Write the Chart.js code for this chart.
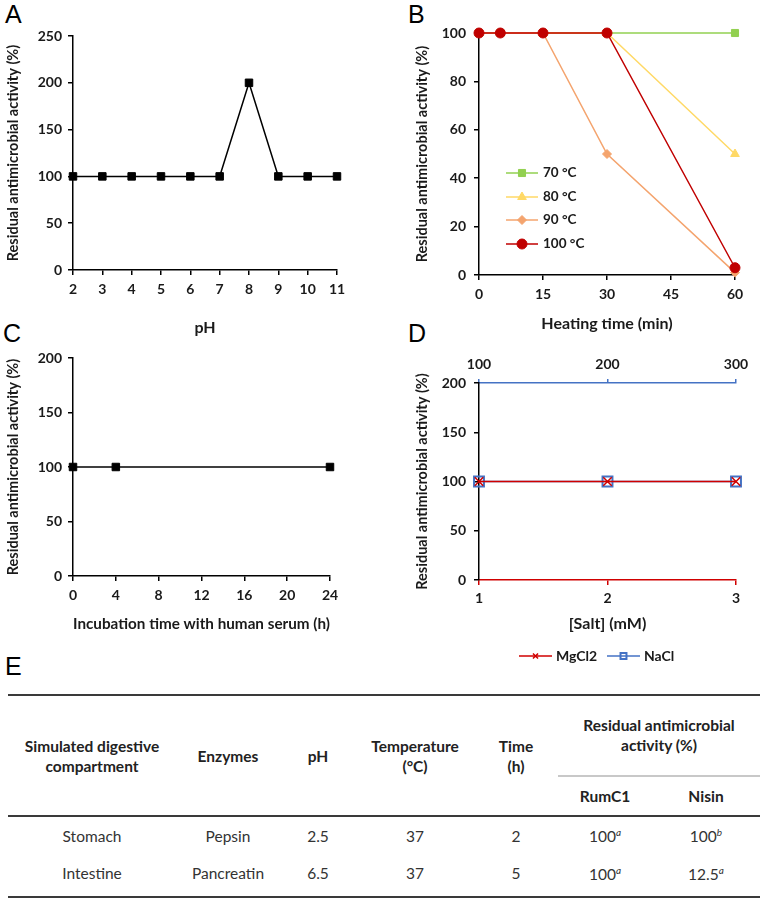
<!DOCTYPE html>
<html>
<head>
<meta charset="utf-8">
<script src="https://cdn.jsdelivr.net/npm/chart.js@4.4.1/dist/chart.umd.min.js"></script>
<style>
    body { margin: 0; background: #fff; width: 763px; height: 902px; position: relative; overflow: hidden; font-family: Lato, sans-serif; }
    canvas { position: absolute; }
    .tag { position: absolute; font: 25px/25px "Liberation Sans", Arial, sans-serif; color: #000; }
    table { position: absolute; left: 8px; top: 694px; width: 752px; border-collapse: collapse; table-layout: fixed;
            font-size: 15.5px; color: #333; border-top: 2px solid #3a3a3a; border-bottom: 2px solid #3a3a3a; }
    thead { border-bottom: 2px solid #3a3a3a; }
    th { font-weight: bold; color: #222; line-height: 20px; padding: 0; text-align: center; }
    td { text-align: center; padding: 0; }
    tr.h1 { height: 81px; }
    tr.h2 { height: 40px; }
    th.grp { border-bottom: 2px solid #c8c8c8; padding-bottom: 2px; }
    tbody tr { height: 38px; }
    tbody tr.last td { padding-bottom: 4px; height: 38px; }
    sup { font-size: 10px; font-style: italic; vertical-align: 6px; }
</style>
</head>
<body>
<div class="tag" style="left:5px;top:2px">A</div>
<div class="tag" style="left:408px;top:2px">B</div>
<div class="tag" style="left:3px;top:321px">C</div>
<div class="tag" style="left:408px;top:321px">D</div>
<div class="tag" style="left:5px;top:654px">E</div>

<canvas id="phChart" width="380" height="340" style="left:0;top:0"></canvas>
<canvas id="heatChart" width="383" height="340" style="left:380px;top:0"></canvas>
<canvas id="serumChart" width="380" height="300" style="left:0;top:340px"></canvas>
<canvas id="saltChart" width="383" height="330" style="left:380px;top:340px"></canvas>

<table>
    <colgroup>
        <col style="width:168px"><col style="width:104px"><col style="width:76px"><col style="width:118px">
        <col style="width:84px"><col style="width:94px"><col style="width:108px">
    </colgroup>
    <thead>
        <tr class="h1">
            <th rowspan="2">Simulated digestive<br>compartment</th>
            <th rowspan="2">Enzymes</th>
            <th rowspan="2">pH</th>
            <th rowspan="2">Temperature<br>(°C)</th>
            <th rowspan="2">Time<br>(h)</th>
            <th colspan="2" class="grp">Residual antimicrobial<br>activity (%)</th>
        </tr>
        <tr class="h2"><th>RumC1</th><th>Nisin</th></tr>
    </thead>
    <tbody id="digestBody"></tbody>
</table>

<script>
// A: activity vs pH
const phValues = [2, 3, 4, 5, 6, 7, 8, 9, 10, 11];
const phActivity = [100, 100, 100, 100, 100, 100, 200, 100, 100, 100];

// B: activity vs heating time
const heatTimes = [0, 5, 15, 30, 60];
const heat70 = [100, 100, 100, 100, 100];
const heat80 = [100, 100, 100, 100, 50];
const heat90 = [100, 100, 100, 50, 1];
const heat100 = [100, 100, 100, 100, 3];

// C: activity vs incubation in human serum
const serumTimes = [0, 4, 24];
const serumActivity = [100, 100, 100];

// D: activity vs salt concentration
const mgcl2Conc = [1, 2, 3];
const mgcl2Activity = [100, 100, 100];
const naclConc = [100, 200, 300];
const naclActivity = [100, 100, 100];

// E: simulated digestion table
const compartments = ['Stomach', 'Intestine'];
const enzymes = ['Pepsin', 'Pancreatin'];
const digestPh = ['2.5', '6.5'];
const digestTemp = ['37', '37'];
const digestTime = ['2', '5'];
const rumc1 = ['100', '100'];
const rumc1Sup = ['a', 'a'];
const nisin = ['100', '12.5'];
const nisinSup = ['b', 'a'];

const yTitle = 'Residual antimicrobial activity (%)';
const ink = '#1a1a1a';

Chart.defaults.font.family = 'Lato';
Chart.defaults.font.weight = 'bold';
Chart.defaults.font.size = 14;
Chart.defaults.color = ink;

function pts(xs, ys) {
    return xs.map((x, i) => ({x: x, y: ys[i]}));
}

function axis(o) {
    const color = o.color || '#000';
    const horiz = o.position !== 'left';
    return {
        type: 'linear',
        position: o.position,
        min: o.min,
        max: o.max,
        afterFit: s => {
            if (horiz) s.height = o.size; else s.width = o.size;
        },
        ticks: {stepSize: o.step, padding: o.tickPad, color: ink, maxRotation: 0, font: {size: 14, weight: 'bold'}},
        grid: {display: true, drawOnChartArea: false, drawTicks: true, tickLength: o.tickLen || 5, color: color, lineWidth: 1.5},
        border: {display: true, color: color, width: 1.5},
        title: {display: !!o.title, text: o.title, color: ink, font: {size: horiz ? 16 : 14.5, weight: 'bold'}, padding: o.titlePad || 0}
    };
}

function series(label, data, color, style, radius, extra) {
    return Object.assign({
        label: label,
        data: data,
        borderColor: color,
        backgroundColor: color,
        borderWidth: 1.5,
        pointStyle: style,
        pointRadius: radius,
        pointHoverRadius: radius,
        pointBorderWidth: 1,
        pointBackgroundColor: color,
        pointBorderColor: color,
        tension: 0,
        clip: false
    }, extra || {});
}

// draws an Excel style legend (line + marker + label) at given spots
const lineLegend = {
    id: 'lineLegend',
    afterDraw(chart, args, opts) {
        if (!opts.spots) return;
        const ctx = chart.ctx;
        ctx.save();
        ctx.font = 'bold ' + opts.fontSize + 'px Lato';
        ctx.textBaseline = 'middle';
        chart.data.datasets.forEach((ds, i) => {
            const [x, y] = opts.spots[i];
            ctx.strokeStyle = ds.borderColor;
            ctx.lineWidth = ds.borderWidth;
            ctx.beginPath();
            ctx.moveTo(x, y);
            ctx.lineTo(x + opts.len, y);
            ctx.stroke();
            ctx.fillStyle = ds.pointBackgroundColor;
            ctx.strokeStyle = ds.pointBorderColor;
            ctx.lineWidth = ds.pointBorderWidth;
            Chart.helpers.drawPoint(ctx, {
                pointStyle: ds.pointStyle,
                radius: ds.pointRadius * (opts.markScale || 1),
                borderWidth: ds.pointBorderWidth,
                rotation: 0
            }, x + opts.len / 2, y);
            ctx.fillStyle = ink;
            ctx.fillText(ds.label, x + opts.len + opts.gap, y);
        });
        ctx.restore();
    }
};

function baseOptions(padding, scales, legend) {
    return {
        responsive: false,
        animation: false,
        events: [],
        layout: {padding: padding},
        scales: scales,
        plugins: {
            legend: {display: false},
            tooltip: {enabled: false},
            lineLegend: legend || {}
        }
    };
}

const phChart = new Chart(document.getElementById('phChart'), {
    type: 'line',
    data: {
        datasets: [series('pH', pts(phValues, phActivity), '#000', 'rect', 5.3)]
    },
    options: baseOptions({top: 36, right: 43, left: 0, bottom: 0}, {
        x: axis({position: 'bottom', min: 2, max: 11, step: 1, size: 70, tickPad: 6, title: 'pH', titlePad: {bottom: 3}}),
        y: axis({position: 'left', min: 0, max: 250, step: 50, size: 73, tickPad: 6, title: yTitle, titlePad: {top: 5}})
    })
});

const heatChart = new Chart(document.getElementById('heatChart'), {
    type: 'line',
    data: {
        datasets: [
            series('70 °C', pts(heatTimes, heat70), '#92D050', 'rect', 5, {order: 4}),
            series('80 °C', pts(heatTimes, heat80), '#FFD966', 'triangle', 5, {order: 3}),
            series('90 °C', pts(heatTimes, heat90), '#F4A46E', 'rectRot', 4.5, {order: 2}),
            series('100 °C', pts(heatTimes, heat100), '#C00000', 'circle', 5, {order: 1})
        ]
    },
    plugins: [lineLegend],
    options: baseOptions({top: 33, right: 28, left: 0, bottom: 0}, {
        x: axis({position: 'bottom', min: 0, max: 60, step: 15, size: 65, tickPad: 6.5, title: 'Heating time (min)', titlePad: {bottom: 7}}),
        y: axis({position: 'left', min: 0, max: 100, step: 20, size: 99, tickPad: 8, title: yTitle, titlePad: {top: 34}})
    }, {spots: [[126, 173], [126, 197], [126, 220], [126, 244]], len: 32, gap: 5, fontSize: 13.5})
});

const serumChart = new Chart(document.getElementById('serumChart'), {
    type: 'line',
    data: {
        datasets: [series('Serum', pts(serumTimes, serumActivity), '#000', 'rect', 5.3)]
    },
    options: baseOptions({top: 18, right: 50, left: 0, bottom: 0}, {
        x: axis({position: 'bottom', min: 0, max: 24, step: 4, size: 64, tickPad: 6.5, title: 'Incubation time with human serum (h)', titlePad: {bottom: 7}}),
        y: axis({position: 'left', min: 0, max: 200, step: 50, size: 73, tickPad: 6, title: yTitle, titlePad: {top: 5}})
    })
});

const saltChart = new Chart(document.getElementById('saltChart'), {
    type: 'line',
    data: {
        datasets: [
            series('MgCl2', pts(mgcl2Conc, mgcl2Activity), '#D00000', 'crossRot', 6,
                {pointBorderWidth: 1.5, xAxisID: 'x'}),
            series('NaCl', pts(naclConc, naclActivity), '#4472C4', 'rect', 7,
                {pointBorderWidth: 2, pointBackgroundColor: 'rgba(0,0,0,0)', xAxisID: 'x2'})
        ]
    },
    plugins: [lineLegend],
    options: baseOptions({top: 0, right: 27, left: 0, bottom: 30}, {
        x: axis({position: 'bottom', min: 1, max: 3, step: 1, size: 60, tickPad: 5.5, color: '#D00000', title: '[Salt] (mM)', titlePad: {bottom: 7}}),
        x2: axis({position: 'top', min: 100, max: 300, step: 100, size: 43, tickPad: 6.5, tickLen: 4, color: '#4472C4'}),
        y: axis({position: 'left', min: 0, max: 200, step: 50, size: 99, tickPad: 8, title: yTitle, titlePad: {top: 34}})
    }, {spots: [[139, 316], [227, 316]], len: 33, gap: 4, markScale: 0.6, fontSize: 14})
});

// table body for panel E
const body = document.getElementById('digestBody');
compartments.forEach((c, i) => {
    const tr = document.createElement('tr');
    if (i === compartments.length - 1) tr.className = 'last';
    tr.innerHTML = '<td>' + c + '</td><td>' + enzymes[i] + '</td><td>' + digestPh[i] + '</td><td>' +
        digestTemp[i] + '</td><td>' + digestTime[i] + '</td><td>' + rumc1[i] + '<sup>' + rumc1Sup[i] +
        '</sup></td><td>' + nisin[i] + '<sup>' + nisinSup[i] + '</sup></td>';
    body.appendChild(tr);
});
</script>
</body>
</html>
